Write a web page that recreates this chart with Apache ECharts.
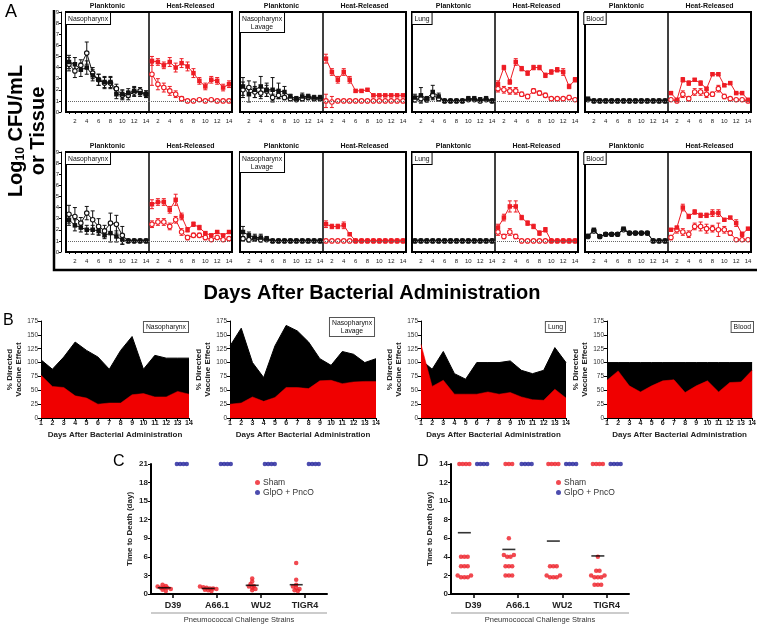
<!DOCTYPE html>
<html><head><meta charset="utf-8">
<script src="https://cdn.jsdelivr.net/npm/echarts@6/dist/echarts.min.js"></script>
<style>html,body{margin:0;padding:0;background:#fff}#c{width:759px;height:625px}</style>
</head><body><div id="c"></div>
<script>
const FONT = 'Arial, "Liberation Sans", sans-serif';
const RED = '#ee1c24', BLK = '#111111', BLUE = '#1f1f9a';

// ---------- shared ----------
const days = [1,2,3,4,5,6,7,8,9,10,11,12,13,14];
const dayLabelVals = [2,4,6,8,10,12,14];
const aTissues = ['Nasopharynx', 'Nasopharynx\nLavage', 'Lung', 'Blood'];
const halfTitles = ['Planktonic', 'Heat-Released'];

// ---------- Panel A, top row (F = filled, O = open, e = error) ----------
const npTopPlF  = [4.5,4.3,3.8,4.0,3.3,2.9,2.7,2.7,1.6,1.6,1.7,1.9,1.7,1.6];
const npTopPlFe = [0.6,0.6,0.6,0.6,0.5,0.5,0.5,0.5,0.4,0.4,0.4,0.4,0.3,0.3];
const npTopPlO  = [4.3,3.7,4.2,5.3,3.5,2.9,2.6,2.6,2.1,1.5,1.5,1.8,1.9,1.6];
const npTopPlOe = [0.6,0.6,0.5,1.0,0.5,0.5,0.5,0.5,0.4,0.4,0.4,0.4,0.3,0.3];
const npTopHrF  = [4.6,4.5,4.2,4.5,4.0,4.4,4.1,3.5,2.8,2.3,2.9,2.8,2.2,2.5];
const npTopHrFe = [0.4,0.3,0.3,0.4,0.4,0.4,0.4,0.4,0.3,0.3,0.3,0.3,0.3,0.3];
const npTopHrO  = [3.4,2.5,2.2,1.9,1.6,1.2,1.0,1.0,1.1,1.0,1.1,1.0,1.0,1.0];
const npTopHrOe = [1.0,0.5,0.4,0.4,0.3,0.2,0.1,0.1,0.1,0.1,0.1,0.05,0.05,0.05];

const nlTopPlF  = [2.3,1.6,2.0,2.3,2.0,2.0,1.9,1.8,1.4,1.2,1.4,1.4,1.3,1.3];
const nlTopPlFe = [0.8,0.7,0.7,0.9,0.6,1.1,0.7,0.5,0.2,0.2,0.3,0.2,0.2,0.2];
const nlTopPlO  = [2.0,2.2,1.8,1.7,1.9,1.3,1.5,1.3,1.2,1.1,1.2,1.3,1.2,1.2];
const nlTopPlOe = [0.7,0.6,0.5,0.5,0.5,0.3,0.3,0.2,0.1,0.1,0.2,0.2,0.1,0.1];
const nlTopHrF  = [4.8,3.6,2.9,3.6,2.9,1.9,1.9,2.0,1.5,1.5,1.5,1.5,1.5,1.5];
const nlTopHrFe = [0.4,0.3,0.3,0.3,0.3,0.1,0.1,0.1,0.1,0.1,0.1,0.1,0.1,0.1];
const nlTopHrO  = [1.0,0.9,1.0,1.0,1.0,1.0,1.0,1.0,1.0,1.0,1.0,1.0,1.0,1.0];
const nlTopHrOe = [0.6,0.5,0.1,0,0,0,0,0,0,0,0,0,0,0];

const luTopPlF  = [1.3,1.5,1.2,1.8,1.4,1.0,1.0,1.0,1.0,1.2,1.2,1.1,1.2,1.0];
const luTopPlFe = [0.3,0.7,0.2,0.6,0.3,0,0,0,0,0.2,0.2,0.2,0.2,0];
const luTopPlO  = [1.1,1.2,1.1,1.5,1.2,1.0,1.0,1.0,1.0,1.1,1.1,1.0,1.1,1.0];
const luTopPlOe = [0.2,0.3,0.2,0.4,0.2,0,0,0,0,0.1,0.1,0.1,0.1,0];
const luTopHrF  = [2.5,4.0,2.7,4.5,3.9,3.5,4.0,4.0,3.3,3.6,3.8,3.6,2.3,2.9];
const luTopHrFe = [0.3,0.2,0.2,0.3,0.2,0.2,0.2,0.2,0.2,0.2,0.2,0.3,0.2,0.2];
const luTopHrO  = [2.1,2.0,1.9,1.9,1.6,1.4,1.9,1.7,1.5,1.2,1.2,1.2,1.3,1.1];
const luTopHrOe = [0.3,0.3,0.3,0.3,0.2,0.2,0.2,0.2,0.2,0.1,0.1,0.1,0.2,0.1];

const blTopPlF  = [1.2,1.0,1.0,1.0,1.0,1.0,1.0,1.0,1.0,1.0,1.0,1.0,1.0,1.0];
const blTopPlFe = [0.1,0.05,0.05,0.05,0.05,0.05,0.05,0.05,0.05,0.05,0.05,0.05,0.05,0.05];
const blTopPlO  = [1.1,1.0,1.0,1.0,1.0,1.0,1.0,1.0,1.0,1.0,1.0,1.0,1.0,1.0];
const blTopPlOe = [0.1,0,0,0,0,0,0,0,0,0,0,0,0,0];
const blTopHrF  = [1.7,1.1,2.9,2.6,2.9,2.6,2.1,3.4,3.4,2.4,2.6,1.7,1.7,1.1];
const blTopHrFe = [0.1,0.1,0.2,0.2,0.1,0.2,0.1,0.1,0.1,0.1,0.1,0.1,0.1,0.1];
const blTopHrO  = [1.1,1.0,1.6,1.2,1.8,1.8,1.6,1.6,2.1,1.4,1.2,1.1,1.1,1.0];
const blTopHrOe = [0.1,0.1,0.3,0.2,0.3,0.3,0.3,0.2,0.3,0.2,0.1,0.1,0.1,0.1];

// ---------- Panel A, bottom row ----------
const npBotPlF  = [2.9,2.4,2.2,2.0,2.0,1.9,1.5,1.7,1.4,1.1,1.0,1.0,1.0,1.0];
const npBotPlFe = [0.5,0.5,0.4,0.4,0.4,0.4,0.3,0.8,0.5,0.4,0,0,0,0];
const npBotPlO  = [3.4,3.2,2.6,3.5,2.9,2.3,1.9,2.6,2.5,1.5,1.0,1.0,1.0,1.0];
const npBotPlOe = [0.8,0.8,0.5,0.6,0.8,0.7,0.5,0.9,0.8,0.8,0,0,0,0];
const npBotHrF  = [4.3,4.5,4.5,3.8,4.7,3.2,2.0,2.5,2.2,1.7,1.5,1.8,1.5,1.8];
const npBotHrFe = [0.4,0.3,0.3,0.3,0.5,0.3,0.2,0.2,0.2,0.1,0.1,0.1,0.1,0.1];
const npBotHrO  = [2.5,2.7,2.7,2.3,2.9,1.8,1.3,1.5,1.5,1.3,1.1,1.3,1.1,1.2];
const npBotHrOe = [0.3,0.3,0.3,0.3,0.3,0.3,0.2,0.2,0.2,0.2,0.1,0.1,0.1,0.1];

const nlBotPlF  = [1.8,1.5,1.3,1.3,1.2,1.0,1.0,1.0,1.0,1.0,1.0,1.0,1.0,1.0];
const nlBotPlFe = [0.5,0.3,0.3,0.3,0.2,0,0,0,0,0,0,0,0,0];
const nlBotPlO  = [1.2,1.1,1.2,1.1,1.1,1.0,1.0,1.0,1.0,1.0,1.0,1.0,1.0,1.0];
const nlBotPlOe = [0.2,0.2,0.2,0.2,0.1,0,0,0,0,0,0,0,0,0];
const nlBotHrF  = [2.5,2.3,2.3,2.4,1.6,1.0,1.0,1.0,1.0,1.0,1.0,1.0,1.0,1.0];
const nlBotHrFe = [0.3,0.2,0.2,0.3,0.1,0,0,0,0,0,0,0,0,0];
const nlBotHrO  = [1.0,1.0,1.0,1.0,1.0,1.0,1.0,1.0,1.0,1.0,1.0,1.0,1.0,1.0];
const nlBotHrOe = [0,0,0,0,0,0,0,0,0,0,0,0,0,0];

const luBotPlF  = [1.0,1.0,1.0,1.0,1.0,1.0,1.0,1.0,1.0,1.0,1.0,1.0,1.0,1.0];
const luBotPlFe = [0,0,0,0,0,0,0,0,0,0,0,0,0,0];
const luBotPlO  = [1.0,1.0,1.0,1.0,1.0,1.0,1.0,1.0,1.0,1.0,1.0,1.0,1.0,1.0];
const luBotPlOe = [0,0,0,0,0,0,0,0,0,0,0,0,0,0];
const luBotHrF  = [2.2,3.1,4.1,4.1,3.1,2.6,2.3,1.7,2.0,1.0,1.0,1.0,1.0,1.0];
const luBotHrFe = [0.3,0.3,0.5,0.5,0.2,0.2,0.2,0.2,0.2,0,0,0,0,0];
const luBotHrO  = [1.8,1.4,1.8,1.4,1.0,1.0,1.0,1.0,1.0,1.0,1.0,1.0,1.0,1.0];
const luBotHrOe = [0.3,0.2,0.3,0.2,0,0,0,0,0,0,0,0,0,0];

const blBotPlF  = [1.45,2.0,1.4,1.6,1.6,1.6,2.1,1.7,1.7,1.7,1.7,1.0,1.0,1.0];
const blBotPlFe = [0.1,0.1,0.1,0.1,0.1,0.1,0.1,0.1,0.1,0.1,0.1,0,0,0];
const blBotPlO  = [1.4,1.9,1.4,1.6,1.6,1.6,2.0,1.7,1.7,1.7,1.7,1.0,1.0,1.0];
const blBotPlOe = [0.1,0.1,0.1,0.1,0.1,0.1,0.1,0.1,0.1,0.1,0.1,0,0,0];
const blBotHrF  = [2.0,2.2,4.0,3.2,3.6,3.3,3.3,3.5,3.5,2.9,3.1,2.6,1.6,2.1];
const blBotHrFe = [0.1,0.1,0.3,0.2,0.2,0.2,0.2,0.3,0.3,0.1,0.1,0.3,0.2,0.1];
const blBotHrO  = [1.3,2.0,1.8,1.6,2.3,2.3,2.1,2.1,2.0,2.0,1.7,1.1,1.1,1.1];
const blBotHrOe = [0.2,0.3,0.3,0.3,0.3,0.4,0.4,0.3,0.6,0.3,0.2,0.1,0.1,0.1];

// ---------- Panel B ----------
const bTitles = ['Nasopharynx', 'Nasopharynx\nLavage', 'Lung', 'Blood'];
const bNpTotal      = [105,88,110,137,122,110,88,122,147,88,113,108,108,108];
const bNpDirected   = [77,57,55,40,36,25,27,27,42,44,38,38,48,43];
const bNlTotal      = [130,162,100,73,130,167,157,137,107,95,120,115,100,107];
const bNlDirected   = [25,27,38,30,37,55,55,53,67,68,62,65,66,66];
const bLungTotal    = [105,88,120,80,70,100,100,100,103,86,80,86,127,100];
const bLungDirected = [133,57,68,43,43,43,47,43,46,38,33,32,52,36];
const bBloodTotal   = [100,100,100,100,100,100,100,100,100,100,100,100,100,100];
const bBloodDirected= [68,85,58,47,58,67,69,46,58,67,47,64,65,86];

// ---------- Panels C & D ----------
const strains = ['D39','A66.1','WU2','TIGR4'];
const cShamD39   = [1.5,1.3,1.2,1.0,1.0,1.0,0.8,0.7,0.5];
const cShamA661  = [1.2,1.1,1.0,0.9,0.9,0.8,0.7,0.6,0.5];
const cShamWU2   = [2.5,2.0,1.6,1.3,1.2,1.0,0.8,0.6];
const cShamTIGR4 = [5.0,2.3,1.5,1.2,1.0,0.8,0.6,0.5];
const cShamMean  = [1.0,0.9,1.4,1.5];
const cVacD39    = [21,21,21,21];
const cVacA661   = [21,21,21,21];
const cVacWU2    = [21,21,21,21];
const cVacTIGR4  = [21,21,21,21];

const dShamD39   = [14,14,14,14, 4,4,4, 3,3,3, 2.0,1.8,1.8,1.8,2.0];
const dShamA661  = [14,14,14, 6, 4.2,4.0,4.0,4.2, 3,3,3, 2,2,2];
const dShamWU2   = [14,14,14,14, 3,3,3, 2.0,1.8,1.8,1.8,2.0];
const dShamTIGR4 = [14,14,14,14, 4, 2.5,2.5, 2.0,1.8,1.8,1.8,2.0, 1,1,1];
const dShamMean  = [6.6,4.8,5.7,4.1];
const dVacD39    = [14,14,14,14];
const dVacA661   = [14,14,14,14];
const dVacWU2    = [14,14,14,14];
const dVacTIGR4  = [14,14,14,14];

// ---------- build ----------
const aTop = [
  {pl:[npTopPlF,npTopPlFe,npTopPlO,npTopPlOe], hr:[npTopHrF,npTopHrFe,npTopHrO,npTopHrOe]},
  {pl:[nlTopPlF,nlTopPlFe,nlTopPlO,nlTopPlOe], hr:[nlTopHrF,nlTopHrFe,nlTopHrO,nlTopHrOe]},
  {pl:[luTopPlF,luTopPlFe,luTopPlO,luTopPlOe], hr:[luTopHrF,luTopHrFe,luTopHrO,luTopHrOe]},
  {pl:[blTopPlF,blTopPlFe,blTopPlO,blTopPlOe], hr:[blTopHrF,blTopHrFe,blTopHrO,blTopHrOe]}
];
const aBot = [
  {pl:[npBotPlF,npBotPlFe,npBotPlO,npBotPlOe], hr:[npBotHrF,npBotHrFe,npBotHrO,npBotHrOe]},
  {pl:[nlBotPlF,nlBotPlFe,nlBotPlO,nlBotPlOe], hr:[nlBotHrF,nlBotHrFe,nlBotHrO,nlBotHrOe]},
  {pl:[luBotPlF,luBotPlFe,luBotPlO,luBotPlOe], hr:[luBotHrF,luBotHrFe,luBotHrO,luBotHrOe]},
  {pl:[blBotPlF,blBotPlFe,blBotPlO,blBotPlOe], hr:[blBotHrF,blBotHrFe,blBotHrO,blBotHrOe]}
];
const bData = [[bNpTotal,bNpDirected],[bNlTotal,bNlDirected],[bLungTotal,bLungDirected],[bBloodTotal,bBloodDirected]];
const cSham = [cShamD39,cShamA661,cShamWU2,cShamTIGR4];
const cVac  = [cVacD39,cVacA661,cVacWU2,cVacTIGR4];
const dSham = [dShamD39,dShamA661,dShamWU2,dShamTIGR4];
const dVac  = [dVacD39,dVacA661,dVacWU2,dVacTIGR4];

// layout
const A_BOX_LEFT = [66,240,412,585], A_ROW_TOP = [12,152], A_HALF = 83, A_H = 100;
const LABEL_CX = [22,22,10,10];
const B_LEFT = [41,230,421,607], B_W = [148,146,145,147], B_TOP = 321, B_H = 97;

const grids = [], xAxes = [], yAxes = [], series = [], graphics = [];

function errBars(gi, vals, errs, color){
  return {
    type:'custom', xAxisIndex:gi, yAxisIndex:gi, silent:true, z:2,
    data: days.map((d,i)=>[d, vals[i], errs[i]]),
    renderItem(params, api){
      const x = api.value(0), y = api.value(1), e = api.value(2);
      if (!e) return null;
      const t = api.coord([x, y+e]), b = api.coord([x, y-e]);
      const st = {stroke:color, lineWidth:1};
      return {type:'group', children:[
        {type:'line', shape:{x1:t[0],y1:t[1],x2:b[0],y2:b[1]}, style:st},
        {type:'line', shape:{x1:t[0]-2,y1:t[1],x2:t[0]+2,y2:t[1]}, style:st},
        {type:'line', shape:{x1:b[0]-2,y1:b[1],x2:b[0]+2,y2:b[1]}, style:st}
      ]};
    }
  };
}

[aTop, aBot].forEach((row, r) => {
  row.forEach((box, b) => {
    ['pl','hr'].forEach((half, h) => {
      const gi = grids.length;
      const left = A_BOX_LEFT[b] + h*A_HALF;
      grids.push({left, top:A_ROW_TOP[r], width:A_HALF, height:A_H, show:true,
        borderColor:'#000', borderWidth:1, backgroundColor:'transparent'});
      xAxes.push({gridIndex:gi, type:'value', min:0.5, max:14.5, offset:4,
        axisLine:{show:true, lineStyle:{color:'#222', width:0.8}},
        axisTick:{show:true, customValues:days, length:2, lineStyle:{color:'#000', width:1}},
        axisLabel:{customValues:dayLabelVals, fontSize:6, margin:2, color:'#222', fontFamily:FONT},
        splitLine:{show:false}});
      yAxes.push({gridIndex:gi, type:'value', min:0, max:9, interval:1, show:(b===0 && h===0), offset:5,
        axisLine:{show:true, lineStyle:{color:'#000', width:1}},
        axisTick:{show:true, length:2, lineStyle:{color:'#000'}},
        axisLabel:{fontSize:6, margin:2, color:'#222', fontFamily:FONT},
        splitLine:{show:false}});
      const color = h===0 ? BLK : RED;
      const [fv, fe, ov, oe] = box[half];
      series.push(errBars(gi, ov, oe, color));
      series.push(errBars(gi, fv, fe, color));
      series.push({type:'line', xAxisIndex:gi, yAxisIndex:gi, silent:true, z:3,
        data: days.map((d,i)=>[d, ov[i]]), symbol:'circle', symbolSize:4.5,
        itemStyle:{color:'#fff', borderColor:color, borderWidth:1.1},
        lineStyle:{color, width:1},
        markLine:{silent:true, symbol:'none', label:{show:false},
          lineStyle:{type:'dotted', color:'#666', width:1}, data:[{yAxis:1}]}});
      series.push({type:'line', xAxisIndex:gi, yAxisIndex:gi, silent:true, z:4,
        data: days.map((d,i)=>[d, fv[i]]), symbol:'rect', symbolSize:4.5,
        itemStyle:{color}, lineStyle:{color, width:1}});
      graphics.push({type:'text', x:left + A_HALF/2, y:A_ROW_TOP[r]-6, z:50,
        style:{text:halfTitles[h], font:'bold 7px '+FONT, fill:'#111', align:'center', verticalAlign:'middle'}});
    });
    graphics.push({type:'rect', z:60, shape:{x:A_BOX_LEFT[b], y:A_ROW_TOP[r], width:2*A_HALF, height:A_H},
      style:{fill:'none', stroke:'#000', lineWidth:2}});
    graphics.push({type:'text', z:70, x:A_BOX_LEFT[b] + LABEL_CX[b], y:A_ROW_TOP[r] + 1,
      style:{text:aTissues[b], font:'6.8px '+FONT, fill:'#111', align:'center', verticalAlign:'top',
        backgroundColor:'#fff', borderColor:'#000', borderWidth:1, padding:[2,2,1,2], lineHeight:8}});
  });
});

// Panel B
bData.forEach((pair, k) => {
  const gi = grids.length;
  grids.push({left:B_LEFT[k], top:B_TOP, width:B_W[k], height:B_H, show:false});
  xAxes.push({gridIndex:gi, type:'value', min:1, max:14, interval:1,
    name:'Days After Bacterial Administration', nameLocation:'middle', nameGap:13,
    nameTextStyle:{fontSize:8, fontWeight:'bold', color:'#222', fontFamily:FONT},
    axisLine:{show:true, lineStyle:{color:'#000', width:1}},
    axisTick:{show:true, length:3, lineStyle:{color:'#000'}},
    axisLabel:{fontSize:7, fontWeight:'bold', margin:2, color:'#222', fontFamily:FONT},
    splitLine:{show:false}});
  yAxes.push({gridIndex:gi, type:'value', min:0, max:175, interval:25,
    name:'% Directed\nVaccine Effect', nameLocation:'middle', nameGap:17,
    nameTextStyle:{fontSize:8, fontWeight:'bold', color:'#222', lineHeight:9, fontFamily:FONT},
    axisLine:{show:true, lineStyle:{color:'#000', width:1}},
    axisTick:{show:true, length:3, lineStyle:{color:'#000'}},
    axisLabel:{fontSize:6.5, margin:3, color:'#333', fontFamily:FONT},
    splitLine:{show:false}});
  series.push({type:'line', xAxisIndex:gi, yAxisIndex:gi, silent:true, z:2, symbol:'none',
    data: days.map((d,i)=>[d, pair[0][i]]),
    lineStyle:{color:'#000', width:1}, areaStyle:{color:'#000', opacity:1}});
  series.push({type:'line', xAxisIndex:gi, yAxisIndex:gi, silent:true, z:3, symbol:'none',
    data: days.map((d,i)=>[d, pair[1][i]]),
    lineStyle:{color:'#f00000', width:0.5}, areaStyle:{color:'#f00000', opacity:1}});
  const right = B_LEFT[k] + B_W[k] - 1;
  graphics.push({type:'text', z:70, x:(k===1 ? right - 23 : right), y:(k===1 ? 318 : 322),
    style:{text:bTitles[k], font:'6.8px '+FONT, fill:'#111', align:(k===1?'center':'right'), verticalAlign:'top',
      backgroundColor:'#fff', borderColor:'#555', borderWidth:1, padding:[1,2,1,2], lineHeight:8}});
});

// Panels C & D
function swarm(vals, center){
  const groups = new Map();
  vals.forEach(v => { const key = Math.round(v*2)/2; if(!groups.has(key)) groups.set(key, []); groups.get(key).push(v); });
  const pts = [];
  groups.forEach(g => g.forEach((v,k)=> pts.push([center + (k-(g.length-1)/2)*0.075, v])));
  return pts;
}
const CD = [
  {left:151, width:176, max:21, interval:3, sham:cSham, vac:cVac, mean:cShamMean, legendLeft:250},
  {left:451, width:178, max:14, interval:2, sham:dSham, vac:dVac, mean:dShamMean, legendLeft:551}
];
const legends = [];
CD.forEach((p, k) => {
  const gi = grids.length;
  grids.push({left:p.left, top:464, width:p.width, height:130, show:false});
  xAxes.push({gridIndex:gi, type:'category', data:strains, boundaryGap:true,
    axisLine:{show:true, lineStyle:{color:'#000', width:2}},
    axisTick:{show:true, alignWithLabel:true, length:4, lineStyle:{color:'#000', width:1.5}},
    axisLabel:{fontSize:9, fontWeight:'bold', margin:7, color:'#222', fontFamily:FONT},
    splitLine:{show:false}});
  const vx = xAxes.length;
  xAxes.push({gridIndex:gi, type:'value', min:0, max:4, show:false});
  yAxes.push({gridIndex:gi, type:'value', min:0, max:p.max, interval:p.interval,
    name:'Time to Death (day)', nameLocation:'middle', nameGap:17,
    nameTextStyle:{fontSize:8, fontWeight:'bold', color:'#222', fontFamily:FONT},
    axisLine:{show:true, lineStyle:{color:'#000', width:2}},
    axisTick:{show:true, length:3, lineStyle:{color:'#000', width:1}},
    axisLabel:{fontSize:8, fontWeight:'bold', margin:3, color:'#222', fontFamily:FONT},
    splitLine:{show:false}});
  const shamPts = [], vacPts = [], meanPts = [];
  strains.forEach((s, i) => {
    swarm(p.sham[i], i+0.5-0.2).forEach(pt=>shamPts.push(pt));
    swarm(p.vac[i], i+0.5+0.2).forEach(pt=>vacPts.push(pt));
    meanPts.push([i+0.5-0.2, p.mean[i]]);
  });
  series.push({type:'scatter', name:'Sham', xAxisIndex:vx, yAxisIndex:gi, data:shamPts,
    symbol:'circle', symbolSize:4.5, itemStyle:{color:RED}, z:3, silent:true});
  series.push({type:'scatter', name:'GlpO + PncO', xAxisIndex:vx, yAxisIndex:gi, data:vacPts,
    symbol:'circle', symbolSize:4.5, itemStyle:{color:BLUE}, z:3, silent:true});
  series.push({type:'scatter', name:'mean', xAxisIndex:vx, yAxisIndex:gi, data:meanPts,
    symbol:'rect', symbolSize:[13,1.6], itemStyle:{color:'#000'}, z:4, silent:true});
  legends.push({data:['Sham','GlpO + PncO'], left:p.legendLeft, top:473, orient:'vertical',
    icon:'circle', itemWidth:5, itemHeight:5, itemGap:1, selectedMode:false,
    textStyle:{fontSize:8.5, color:'#333', fontFamily:FONT, padding:[0,0,0,-2]}});
  graphics.push({type:'line', z:50, shape:{x1:p.left, y1:613, x2:p.left+p.width, y2:613},
    style:{stroke:'#999', lineWidth:1}});
  graphics.push({type:'text', z:50, x:p.left + p.width/2, y:620,
    style:{text:'Pneumococcal Challenge Strains', font:'7.5px '+FONT, fill:'#333', align:'center', verticalAlign:'middle'}});
});

// Panel letters and big titles
graphics.push({type:'text', x:5, y:3, style:{text:'A', font:'18px '+FONT, fill:'#000'}});
graphics.push({type:'text', x:3, y:313, style:{text:'B', font:'16px '+FONT, fill:'#000'}});
graphics.push({type:'text', x:113, y:454, style:{text:'C', font:'16px '+FONT, fill:'#000'}});
graphics.push({type:'text', x:417, y:454, style:{text:'D', font:'16px '+FONT, fill:'#000'}});
graphics.push({type:'polyline', z:60, shape:{points:[[54,10],[54,270],[757,270]]},
  style:{fill:'none', stroke:'#000', lineWidth:2.5}});
graphics.push({type:'text', x:27, y:131, rotation:Math.PI/2,
  style:{text:'{a|Log}{s|10}{a| CFU/mL}\n{a|or Tissue}', align:'center', verticalAlign:'middle', fill:'#000',
    rich:{a:{fontSize:20, fontWeight:'bold', fontFamily:FONT, lineHeight:22, fill:'#000'},
          s:{fontSize:12, fontWeight:'bold', fontFamily:FONT, verticalAlign:'bottom', fill:'#000'}}}});
graphics.push({type:'text', x:372, y:293,
  style:{text:'Days After Bacterial Administration', font:'bold 20px '+FONT, fill:'#000', align:'center', verticalAlign:'middle'}});

const chart = echarts.init(document.getElementById('c'));
chart.setOption({
  animation:false,
  backgroundColor:'#fff',
  textStyle:{fontFamily:FONT},
  grid:grids, xAxis:xAxes, yAxis:yAxes, series, legend:legends,
  graphic:{elements:graphics}
});
</script></body></html>
